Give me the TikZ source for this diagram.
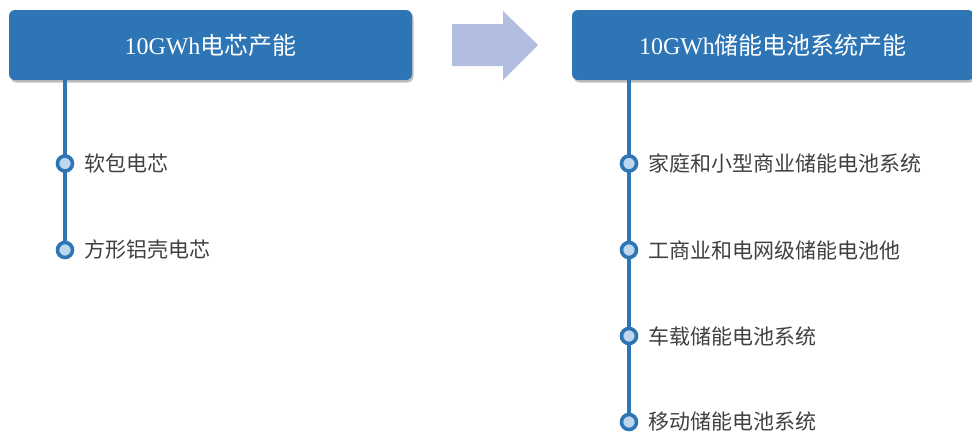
\documentclass[tikz,border=0pt]{standalone}
\usepackage{fontspec}
\setmainfont{Liberation Serif}
\newfontfamily\cjk{Noto Sans CJK SC}
\usetikzlibrary{shadows}
\definecolor{hblue}{RGB}{46,117,182}
\definecolor{bfill}{RGB}{189,215,238}
\definecolor{arr}{RGB}{178,190,224}
\definecolor{txt}{RGB}{64,64,64}
\begin{document}
\begin{tikzpicture}[x=1pt,y=-1pt,
  header/.style={fill=hblue, rounded corners=6pt, draw=none, text=white,
    font=\fontsize{24}{28}\selectfont, inner sep=0pt,
    drop shadow={shadow xshift=1.5pt, shadow yshift=-2.5pt, opacity=0.25, fill=black}},
  bullet/.style={circle, draw=hblue, fill=bfill, line width=3.6pt, minimum size=15pt, inner sep=0pt},
  item/.style={anchor=west, text=txt, font=\cjk\fontsize{21}{24}\selectfont, inner sep=0pt},
  trunk/.style={draw=hblue, line width=3.5pt}]
\useasboundingbox (0,0) rectangle (972,432);
% headers
\node[header, minimum width=403pt, minimum height=70pt] (h1) at (210.5,45) {10GWh{\cjk 电芯产能}};
\node[header, minimum width=402pt, minimum height=70pt] (h2) at (773,45) {10GWh{\cjk 储能电池系统产能}};
% arrow
\fill[arr] (452,24) -- (503,24) -- (503,11) -- (538,45) -- (503,80) -- (503,66) -- (452,66) -- cycle;
% left column
\coordinate (l0) at (65,80);
\coordinate (lend) at (65,250);
\draw[trunk] (h1.south -| l0) -- (lend);
\node[bullet] (l1) at (65,163.5) {};
\node[bullet] (l2) at (lend) {};
\node[item] (t1) at (84,163.5) {软包电芯};
\node[item] (t2) at (84,250) {方形铝壳电芯};
% right column
\coordinate (r0) at (629,80);
\coordinate (rend) at (629,422);
\draw[trunk] (h2.south -| r0) -- (rend);
\node[bullet] (r1) at (629,163.5) {};
\node[bullet] (r2) at (629,250) {};
\node[bullet] (r3) at (629,336) {};
\node[bullet] (r4) at (rend) {};
\node[item] (s1) at (648,163.5) {家庭和小型商业储能电池系统};
\node[item] (s2) at (648,250) {工商业和电网级储能电池他};
\node[item] (s3) at (648,336) {车载储能电池系统};
\node[item] (s4) at (648,422) {移动储能电池系统};
\end{tikzpicture}
\end{document}
